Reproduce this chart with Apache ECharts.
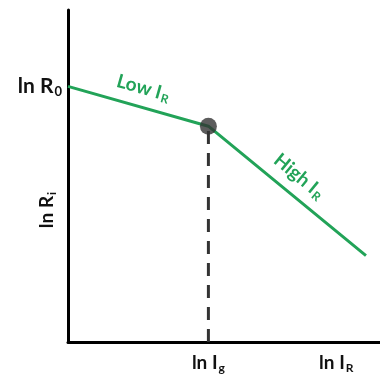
<!DOCTYPE html>
<html>
<head>
<meta charset="utf-8">
<script src="https://cdn.jsdelivr.net/npm/echarts@6/dist/echarts.min.js"></script>
<style>
  html, body { margin: 0; padding: 0; background: #fff; }
  #chart { width: 380px; height: 378px; }
</style>
</head>
<body>
<div id="chart"></div>
<script>
// Piecewise log-resistance vs log-current curve
const lnCurrent = [0, 45, 95.5];
const lnResistance = [77, 65, 26];
const kneeIndex = 1;

// Axis label positions
const xTickValues = [45, 86];
const xTickLabels = ['{b|ln I}{s|g}', '{b|ln I}{s|R}'];
const yTickValues = [77];
const yTickLabels = ['{c|ln R}{t|0}'];
const yAxisTitle = '{b|ln R}{s|i}';
const segmentLabels = ['{b|Low I}{s|R}', '{b|High I}{s|R}'];

const green = '#22a358';
const dark = '#333333';
const font = 'Lato, "Open Sans", sans-serif';

const richBlack = {
  b: { fontSize: 19, fontWeight: 'bold', color: '#111', fontFamily: font },
  s: { fontSize: 12, fontWeight: 'bold', color: '#111', fontFamily: font, padding: [10, 0, 0, 1] },
  c: { fontSize: 21, fontWeight: 'bold', color: '#111', fontFamily: font },
  t: { fontSize: 13, fontWeight: 'bold', color: '#111', fontFamily: font, padding: [10, 0, 0, 1] }
};
const richGreen = {
  b: { fontSize: 19, fontWeight: 'bold', color: green, fontFamily: font },
  s: { fontSize: 12, fontWeight: 'bold', color: green, fontFamily: font, padding: [10, 0, 0, 1] }
};

const points = lnCurrent.map((x, i) => [x, lnResistance[i]]);

const chart = echarts.init(document.getElementById('chart'));
chart.setOption({
  animation: false,
  grid: { left: 68, right: 0, top: 10, bottom: 36, containLabel: false, outerBoundsMode: 'none' },
  xAxis: {
    type: 'value', min: 0, max: 100,
    splitLine: { show: false },
    axisLine: { show: true, lineStyle: { color: '#000', width: 3 } },
    axisTick: { show: false },
    axisLabel: {
      customValues: xTickValues,
      margin: 10,
      formatter: v => xTickLabels[xTickValues.indexOf(v)],
      rich: richBlack
    }
  },
  yAxis: {
    type: 'value', min: 0, max: 100,
    splitLine: { show: false },
    axisLine: { show: true, lineStyle: { color: '#000', width: 3 } },
    axisTick: { show: false },
    axisLabel: {
      customValues: yTickValues,
      margin: 6,
      formatter: v => yTickLabels[yTickValues.indexOf(v)],
      rich: richBlack
    },
    name: yAxisTitle,
    nameLocation: 'middle',
    nameGap: 10,
    nameMoveOverlap: false,
    nameTextStyle: { rich: richBlack, padding: [0, 68, 0, 0] }
  },
  series: [
    {
      type: 'line',
      data: points,
      symbol: 'none',
      lineStyle: { color: green, width: 3 },
      z: 3,
      markLine: {
        silent: true,
        symbol: 'none',
        lineStyle: { color: 'transparent', width: 1 },
        label: {
          show: true,
          position: 'insideMiddleTop',
          distance: 8,
          formatter: p => segmentLabels[p.dataIndex],
          rich: richGreen
        },
        data: [
          [{ coord: points[0] }, { coord: points[1] }],
          [{ coord: points[1] }, { coord: points[2] }]
        ]
      }
    },
    {
      type: 'line',
      data: [[lnCurrent[kneeIndex], 0], [lnCurrent[kneeIndex], lnResistance[kneeIndex]]],
      symbol: 'none',
      lineStyle: { color: dark, width: 3, type: [13, 9] },
      z: 2
    },
    {
      type: 'scatter',
      data: [points[kneeIndex]],
      symbolSize: 17,
      itemStyle: { color: dark },
      z: 4
    }
  ]
});
</script>
</body>
</html>
